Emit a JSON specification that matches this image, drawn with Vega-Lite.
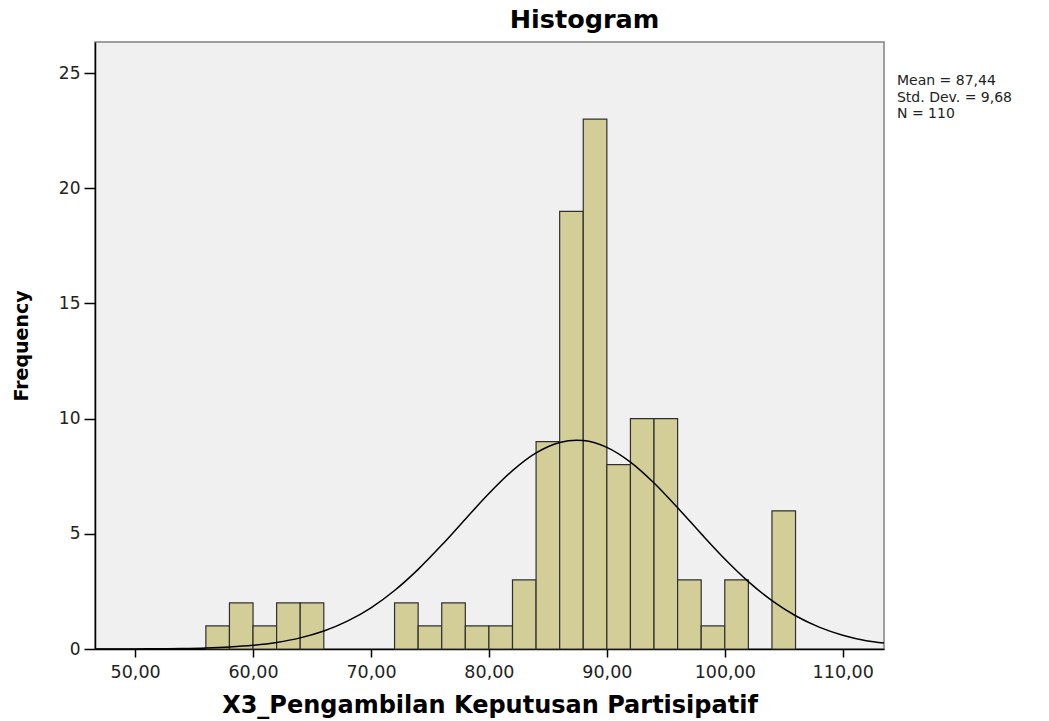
{
  "$schema": "https://vega.github.io/schema/vega-lite/v6.json",
  "width": 789,
  "height": 607,
  "autosize": {"type": "none"},
  "padding": {"left": 95, "top": 42, "right": 165, "bottom": 72},
  "background": "white",
  "title": {"text": "Histogram", "font": "DejaVu Sans", "fontSize": 25.5, "fontWeight": "bold", "color": "black", "anchor": "middle", "dx": 95, "offset": 9},
  "config": {
    "view": {"fill": "#f0f0f0", "stroke": "#808080", "strokeWidth": 1.5},
    "font": "DejaVu Sans"
  },
  "datasets": {
    "bins": [
      {"bin_start": 56, "bin_end": 58, "count": 1},
      {"bin_start": 58, "bin_end": 60, "count": 2},
      {"bin_start": 60, "bin_end": 62, "count": 1},
      {"bin_start": 62, "bin_end": 64, "count": 2},
      {"bin_start": 64, "bin_end": 66, "count": 2},
      {"bin_start": 72, "bin_end": 74, "count": 2},
      {"bin_start": 74, "bin_end": 76, "count": 1},
      {"bin_start": 76, "bin_end": 78, "count": 2},
      {"bin_start": 78, "bin_end": 80, "count": 1},
      {"bin_start": 80, "bin_end": 82, "count": 1},
      {"bin_start": 82, "bin_end": 84, "count": 3},
      {"bin_start": 84, "bin_end": 86, "count": 9},
      {"bin_start": 86, "bin_end": 88, "count": 19},
      {"bin_start": 88, "bin_end": 90, "count": 23},
      {"bin_start": 90, "bin_end": 92, "count": 8},
      {"bin_start": 92, "bin_end": 94, "count": 10},
      {"bin_start": 94, "bin_end": 96, "count": 10},
      {"bin_start": 96, "bin_end": 98, "count": 3},
      {"bin_start": 98, "bin_end": 100, "count": 1},
      {"bin_start": 100, "bin_end": 102, "count": 3},
      {"bin_start": 104, "bin_end": 106, "count": 6}
    ],
    "curve": [
      {"x": 46.6, "y": 0.001},
      {"x": 48, "y": 0.002},
      {"x": 50, "y": 0.005},
      {"x": 52, "y": 0.011},
      {"x": 54, "y": 0.023},
      {"x": 56, "y": 0.046},
      {"x": 58, "y": 0.089},
      {"x": 60, "y": 0.163},
      {"x": 62, "y": 0.287},
      {"x": 64, "y": 0.483},
      {"x": 66, "y": 0.78},
      {"x": 68, "y": 1.208},
      {"x": 70, "y": 1.789},
      {"x": 72, "y": 2.541},
      {"x": 74, "y": 3.458},
      {"x": 76, "y": 4.51},
      {"x": 78, "y": 5.636},
      {"x": 80, "y": 6.749},
      {"x": 82, "y": 7.742},
      {"x": 84, "y": 8.512},
      {"x": 86, "y": 8.967},
      {"x": 87.44, "y": 9.067},
      {"x": 88, "y": 9.052},
      {"x": 90, "y": 8.755},
      {"x": 92, "y": 8.114},
      {"x": 94, "y": 7.207},
      {"x": 96, "y": 6.133},
      {"x": 98, "y": 5.001},
      {"x": 100, "y": 3.908},
      {"x": 102, "y": 2.925},
      {"x": 104, "y": 2.099},
      {"x": 106, "y": 1.443},
      {"x": 108, "y": 0.95},
      {"x": 110, "y": 0.6},
      {"x": 112, "y": 0.363},
      {"x": 113.5, "y": 0.26}
    ],
    "stats": [
      {"x": 114.6, "y": 24.95, "label": "Mean = 87,44\nStd. Dev. = 9,68\nN = 110"}
    ]
  },
  "encoding": {},
  "layer": [
    {
      "data": {"name": "bins"},
      "mark": {"type": "rect", "fill": "#d3ce97", "stroke": "#303030", "strokeWidth": 1.2},
      "encoding": {
        "x": {"field": "bin_start", "type": "quantitative", "scale": {"domain": [46.6, 113.5], "nice": false, "zero": false},
          "axis": {"title": "X3_Pengambilan Keputusan Partisipatif", "values": [50, 60, 70, 80, 90, 100, 110],
            "labelExpr": "replace(format(datum.value, '.2f'), '.', ',')", "grid": false,
            "domainColor": "black", "domainWidth": 1.5, "tickColor": "black", "tickWidth": 1.5, "tickSize": 8,
            "labelFontSize": 17.5, "labelColor": "#222222", "labelPadding": 6,
            "titleFontSize": 24, "titleFontWeight": "bold", "titleColor": "black", "titlePadding": 13}},
        "x2": {"field": "bin_end"},
        "y": {"field": "count", "type": "quantitative", "scale": {"domain": [0, 26.35], "nice": false},
          "axis": {"title": "Frequency", "values": [0, 5, 10, 15, 20, 25], "grid": false,
            "domainColor": "black", "domainWidth": 1.5, "tickColor": "black", "tickWidth": 1.5, "tickSize": 11,
            "labelFontSize": 17, "labelColor": "#222222", "labelPadding": 4,
            "titleFontSize": 19, "titleFontWeight": "bold", "titleColor": "black", "titlePadding": 27}},
        "y2": {"datum": 0}
      }
    },
    {
      "data": {"name": "curve"},
      "mark": {"type": "line", "color": "black", "strokeWidth": 1.5, "interpolate": "monotone", "clip": true},
      "encoding": {
        "x": {"field": "x", "type": "quantitative"},
        "y": {"field": "y", "type": "quantitative"}
      }
    },
    {
      "data": {"name": "stats"},
      "mark": {"type": "text", "align": "left", "baseline": "top", "fontSize": 14, "lineHeight": 16.5, "lineBreak": "\n", "color": "#222222", "clip": false},
      "encoding": {
        "x": {"field": "x", "type": "quantitative"},
        "y": {"field": "y", "type": "quantitative"},
        "text": {"field": "label"}
      }
    }
  ]
}
